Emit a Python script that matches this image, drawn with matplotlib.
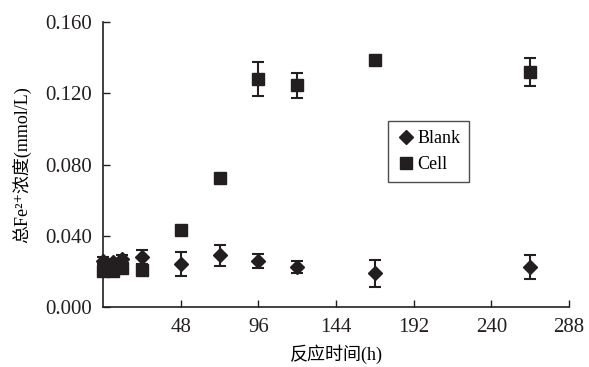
import matplotlib
matplotlib.use("Agg")
import matplotlib.pyplot as plt

plt.rcParams['font.family'] = ['Liberation Serif', 'Noto Sans CJK SC', 'DejaVu Sans']

# reaction time (h)
t = [0, 6, 12, 24, 48, 72, 96, 120, 168, 264]
# total Fe2+ concentration (mmol/L)
blank = [0.026, 0.025, 0.027, 0.028, 0.024, 0.029, 0.026, 0.0225, 0.019, 0.0225]
blank_err = [0.002, 0.002, 0.002, 0.004, 0.0067, 0.006, 0.004, 0.0035, 0.0075, 0.0068]
cell = [0.020, 0.020, 0.022, 0.0205, 0.043, 0.0726, 0.128, 0.1246, 0.1387, 0.1318]
cell_err = [0.001, 0.001, 0.001, 0.001, 0.001, 0.002, 0.0095, 0.007, 0.001, 0.008]

xticks = [48, 96, 144, 192, 240, 288]
yticks = [0.0, 0.04, 0.08, 0.12, 0.16]

ink = '#231f20'

fig = plt.figure(figsize=(5.89, 3.67), dpi=100)
ax = fig.add_axes([0.175, 0.1635, 0.791, 0.7765])

ebkw = dict(fmt='none', ecolor=ink, elinewidth=1.5, capsize=4, capthick=1.5, clip_on=False)
ax.errorbar(t, blank, yerr=blank_err, **ebkw)
ax.errorbar(t, cell, yerr=cell_err, **ebkw)
ax.plot(t, blank, 'D', ms=7, color=ink, ls='none', label='Blank', clip_on=False)
ax.plot(t, cell, 's', ms=8, color=ink, ls='none', label='Cell', clip_on=False)

ax.set_xlim(0, 288)
ax.set_ylim(0, 0.16)
ax.set_xticks(xticks)
ax.set_yticks(yticks)
ax.set_yticklabels(['%.3f' % v for v in yticks])
ax.tick_params(direction='in', labelsize=15, length=5, width=1, colors=ink)
ax.tick_params(axis='x', pad=8)
ax.tick_params(axis='y', pad=8)
for s in ['top', 'right']:
    ax.spines[s].set_visible(False)
for s in ['left', 'bottom']:
    ax.spines[s].set_linewidth(1.2)
    ax.spines[s].set_color(ink)

ax.set_xlabel('反应时间(h)', fontsize=13, labelpad=5)
ax.set_ylabel('总Fe²⁺浓度(mmol/L)', fontsize=13, labelpad=10)

leg = ax.legend(loc='upper left', bbox_to_anchor=(0.612, 0.652), fontsize=13,
                frameon=True, fancybox=False, handletextpad=0.1, borderaxespad=0,
                handlelength=1.0, borderpad=0.5, labelspacing=0.5)
leg.get_frame().set_edgecolor(ink)
leg.get_frame().set_linewidth(1.0)

fig.savefig('out.png', dpi=100)
